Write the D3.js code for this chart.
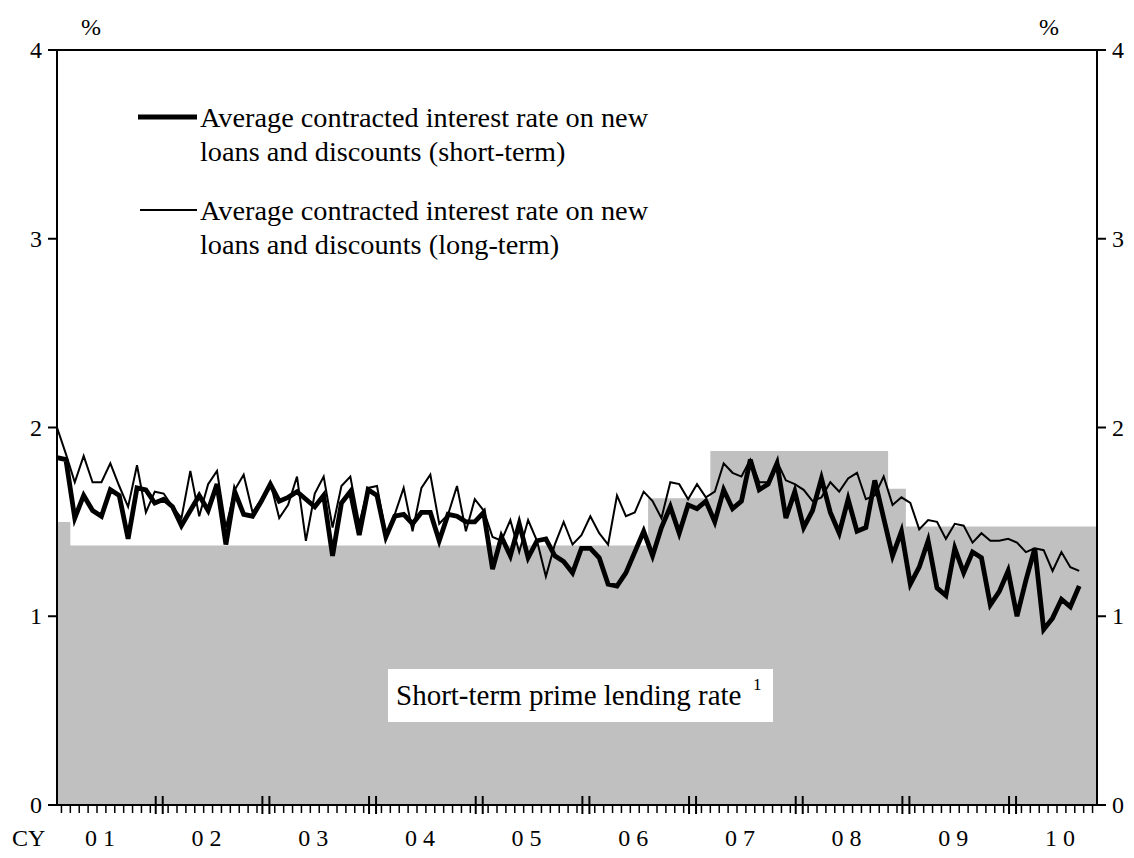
<!DOCTYPE html>
<html><head><meta charset="utf-8">
<script src="https://cdn.jsdelivr.net/npm/d3@7"></script>
<style>
body{margin:0;background:#fff}
svg{display:block}
text{font-family:"Liberation Serif","Times New Roman",serif;fill:#000}
</style>
</head><body><svg id="c" width="1134" height="858"></svg>
<script>
// ---- data ----
const yearLabels = ["01","02","03","04","05","06","07","08","09","10"];
const firstYear = 2001;
const lastMonth = "2010-10"; // axis end
const yTicks = [0,1,2,3,4];

// Average contracted interest rate on new loans and discounts (short-term), monthly from Jan 2001
const shortTerm = [
1.84,1.83,1.52,1.64,1.56,1.53,1.67,1.64,1.41,1.68,1.67,1.60,
1.62,1.58,1.48,1.56,1.64,1.56,1.70,1.38,1.66,1.54,1.53,1.61,
1.70,1.61,1.63,1.66,1.62,1.58,1.64,1.32,1.60,1.66,1.43,1.67,
1.64,1.42,1.53,1.54,1.49,1.55,1.55,1.40,1.54,1.53,1.50,1.50,
1.55,1.25,1.42,1.32,1.49,1.31,1.40,1.41,1.32,1.29,1.23,1.36,
1.36,1.31,1.17,1.16,1.23,1.34,1.45,1.32,1.47,1.58,1.44,1.59,
1.57,1.61,1.50,1.67,1.57,1.61,1.83,1.67,1.70,1.81,1.52,1.66,
1.47,1.56,1.73,1.55,1.44,1.62,1.45,1.47,1.72,1.52,1.32,1.45,
1.17,1.26,1.40,1.15,1.11,1.36,1.23,1.34,1.31,1.06,1.13,1.24,
1.00,1.19,1.36,0.93,0.99,1.09,1.05,1.16];

// Average contracted interest rate on new loans and discounts (long-term)
const longTerm = [
2.00,1.86,1.71,1.85,1.71,1.71,1.81,1.69,1.58,1.80,1.55,1.66,
1.65,1.58,1.52,1.77,1.53,1.70,1.77,1.47,1.67,1.75,1.55,1.62,
1.71,1.52,1.59,1.74,1.40,1.65,1.74,1.47,1.69,1.74,1.49,1.68,
1.69,1.43,1.54,1.68,1.45,1.68,1.75,1.49,1.54,1.69,1.45,1.62,
1.56,1.42,1.40,1.51,1.34,1.51,1.40,1.21,1.38,1.50,1.38,1.43,
1.53,1.44,1.38,1.64,1.53,1.55,1.66,1.61,1.52,1.71,1.70,1.62,
1.70,1.63,1.66,1.81,1.76,1.74,1.83,1.71,1.71,1.82,1.72,1.70,
1.67,1.61,1.63,1.71,1.66,1.73,1.76,1.62,1.64,1.74,1.59,1.63,
1.60,1.46,1.51,1.50,1.41,1.49,1.48,1.39,1.44,1.40,1.40,1.41,
1.39,1.34,1.36,1.35,1.24,1.34,1.26,1.24];

// Short-term prime lending rate: month it takes effect and level
const primeFrom  = ["2001-01","2001-03","2006-08","2007-03","2008-11","2009-01"];
const primeRates = [1.5, 1.375, 1.625, 1.875, 1.675, 1.475];

// ---- build month axis ----
const monthIdx = s => { const [y,m] = s.split("-").map(Number); return (y-firstYear)*12 + (m-1); };
const nMonths = monthIdx(lastMonth) + 1;
const months = d3.range(nMonths);
const primeMonthly = months.map(i => {
  let v = primeRates[0];
  primeFrom.forEach((s,k) => { if (i >= monthIdx(s)) v = primeRates[k]; });
  return v;
});

// ---- layout ----
const L = 57, R = 1097, T = 50, B = 805;
const svg = d3.select("#c");
const x = d3.scaleLinear().domain([0, nMonths-1]).range([L, R]);
const y = d3.scaleLinear().domain([0, 4]).range([B, T]);

// prime rate area
svg.append("path")
  .datum(months)
  .attr("fill", "#c0c0c0")
  .attr("d", d3.area().curve(d3.curveStep)
    .x(i => x(i)).y0(y(0)).y1(i => y(primeMonthly[i])));

// label box
const lb = svg.append("g");
lb.append("rect").attr("x", 388).attr("y", 669).attr("width", 385).attr("height", 53).attr("fill", "#fff");
lb.append("text").attr("x", 396).attr("y", 705).attr("font-size", 29).text("Short-term prime lending rate");
lb.append("text").attr("x", 753).attr("y", 690).attr("font-size", 17).text("1");

// lines
const line = arr => d3.line().x((d,i) => x(i)).y(d => y(d))(arr);
svg.append("path").attr("d", line(longTerm)).attr("fill","none").attr("stroke","#000").attr("stroke-width",2);
svg.append("path").attr("d", line(shortTerm)).attr("fill","none").attr("stroke","#000").attr("stroke-width",4.8);

// frame
const ax = svg.append("g").attr("stroke","#000").attr("stroke-width",2);
ax.append("line").attr("x1", L).attr("x2", L).attr("y1", T).attr("y2", B);
ax.append("line").attr("x1", R).attr("x2", R).attr("y1", T).attr("y2", B);
ax.append("line").attr("x1", L-9).attr("x2", R+9).attr("y1", T).attr("y2", T);
ax.append("line").attr("x1", L-9).attr("x2", R+9).attr("y1", B).attr("y2", B);

// y ticks and labels (left and right)
yTicks.forEach(t => {
  ax.append("line").attr("x1", L-9).attr("x2", L).attr("y1", y(t)).attr("y2", y(t));
  ax.append("line").attr("x1", R).attr("x2", R+9).attr("y1", y(t)).attr("y2", y(t));
  svg.append("text").attr("x", L-15).attr("y", y(t)+8).attr("text-anchor","end").attr("font-size",24).text(t);
  svg.append("text").attr("x", R+15).attr("y", y(t)+8).attr("text-anchor","start").attr("font-size",24).text(t);
});
svg.append("text").attr("x", 91).attr("y", 35).attr("text-anchor","middle").attr("font-size",24).text("%");
svg.append("text").attr("x", 1049).attr("y", 35).attr("text-anchor","middle").attr("font-size",24).text("%");

// x ticks: month boundaries, double ticks at year boundaries
const xt = svg.append("g").attr("stroke","#000").attr("stroke-width",1.5);
for (let i = 1; i < nMonths; i++) {
  const bx = x(i - 0.5);
  if (i % 12 === 0) {
    [-3.5, 3.5].forEach(o => xt.append("line").attr("x1", bx+o).attr("x2", bx+o).attr("y1", B-9).attr("y2", B+9).attr("stroke-width",2));
  } else {
    xt.append("line").attr("x1", bx).attr("x2", bx).attr("y1", B).attr("y2", B+8);
  }
}
svg.append("text").attr("x", 12).attr("y", 846).attr("font-size", 24).text("CY");
yearLabels.forEach((lab, k) => {
  svg.append("text").attr("x", x(12*k + 5.5) - 3).attr("y", 846)
    .attr("text-anchor","middle").attr("font-size",24).attr("letter-spacing","6px").text(lab);
});

// legend
const lg = svg.append("g");
lg.append("line").attr("x1",138).attr("x2",197).attr("y1",117).attr("y2",117).attr("stroke","#000").attr("stroke-width",4.8);
lg.append("line").attr("x1",140).attr("x2",197).attr("y1",210).attr("y2",210).attr("stroke","#000").attr("stroke-width",2);
const legTxt = [
  ["Average contracted interest rate on new", 127],
  ["loans and discounts (short-term)", 161],
  ["Average contracted interest rate on new", 220],
  ["loans and discounts (long-term)", 254]];
legTxt.forEach(([t, yy]) => lg.append("text").attr("x",200).attr("y",yy).attr("font-size",28.3).text(t));
</script>
</body></html>
